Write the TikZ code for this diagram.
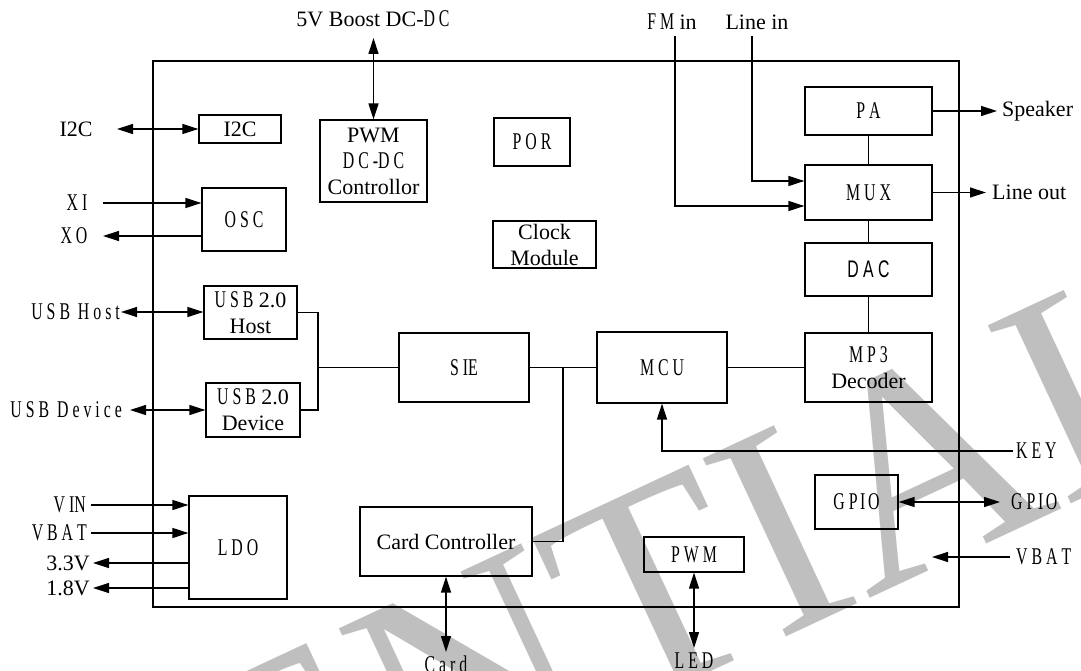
\documentclass[tikz,border=0pt]{standalone}
\usepackage{fontspec}
\setmainfont{Liberation Serif}
\setsansfont{Liberation Sans}
\usepackage{graphicx}
\usetikzlibrary{arrows.meta}
\newcommand\nw[1]{\scalebox{0.66}[1]{\fontsize{24}{26}\selectfont #1}}
\begin{document}
\begin{tikzpicture}[x=1pt,y=-1pt,
  every node/.style={font=\fontsize{22}{26}\selectfont, inner sep=0pt},
  blk/.style={draw, line width=1.2pt, align=center, rectangle},
  wire/.style={line width=1.3pt},
  arr/.style={wire, -{Triangle[length=16pt,width=10pt]}},
  biarr/.style={wire, {Triangle[length=16pt,width=10pt]}-{Triangle[length=16pt,width=10pt]}},
  wmark/.style={text=black!25, font=\fontsize{300}{300}\selectfont}
]
\useasboundingbox (0,0) rectangle (1081,671);
\clip (0,0) rectangle (1081,671);
% watermark
\node[wmark, rotate=25, anchor=base east] (wm) at (1230,430) {CONFIDENTIAL};

% chip frame
\node[draw, line width=1.6pt, minimum width=806pt, minimum height=546pt] (chip) at (556,334) {};

% blocks
\node[blk, minimum width=82pt, minimum height=28pt] (i2c) at (240,129) {I2C};
\node[blk, minimum width=107pt, minimum height=82pt] (pwmdc) at (373.5,161) {PWM\\\nw{D C -D C}\\Controllor};
\node[blk, minimum width=76pt, minimum height=48pt] (por) at (532,142) {\nw{P O R}};
\node[blk, minimum width=84pt, minimum height=63pt] (osc) at (244,219.5) {\nw{O S C}};
\node[blk, minimum width=103pt, minimum height=47pt] (clk) at (544.5,244.5) {Clock\\Module};
\node[blk, minimum width=93pt, minimum height=53pt] (usbh) at (250.5,312.5) {\nw{U S B} 2.0\\Host};
\node[blk, minimum width=94pt, minimum height=54pt] (usbd) at (253,410) {\nw{U S B} 2.0\\Device};
\node[blk, minimum width=130pt, minimum height=69pt] (sie) at (464,367.5) {\nw{S IE}};
\node[blk, minimum width=130pt, minimum height=71pt] (mcu) at (662,367.5) {\nw{M C U}};
\node[blk, minimum width=127pt, minimum height=69pt] (mp3) at (868.5,367.5) {\nw{M P 3}\\Decoder};
\node[blk, minimum width=127pt, minimum height=53pt] (dac) at (868.5,269.5) {\nw{\sffamily D A C}};
\node[blk, minimum width=127pt, minimum height=55pt] (mux) at (868.5,192.5) {\nw{M U X}};
\node[blk, minimum width=127pt, minimum height=48pt] (pa) at (868.5,111) {\nw{P A}};
\node[blk, minimum width=172pt, minimum height=69pt] (card) at (446,541.5) {Card Controller};
\node[blk, minimum width=83pt, minimum height=54pt] (gpio) at (856.5,502) {\nw{G P\,I\,O}};
\node[blk, minimum width=100pt, minimum height=35pt] (pwm) at (694,554.5) {\nw{P W M}};
\node[blk, minimum width=98pt, minimum height=103pt] (ldo) at (238,547.5) {\nw{L D O}};

% top
\node (l5v) at (373,19) {5V Boost DC-\nw{D C}};
\coordinate (c5v) at (373.5,38);
\draw[biarr] (c5v) -- (pwmdc.north);

\node (lfm) at (672,22) {\nw{F M} in};
\node (lli) at (757,22) {Line in};
\coordinate (cfm) at (675,36);
\coordinate (yfm) at (0,206);
\draw[arr] (cfm) |- (mux.west |- yfm);
\coordinate (cli) at (752,36);
\coordinate (yli) at (0,181);
\draw[arr] (cli) |- (mux.west |- yli);

% left
\node (li2c) at (76,129) {I2C};
\coordinate (ci2c) at (117,129);
\draw[biarr] (ci2c) -- (i2c.west);

\node (lxi) at (77,203) {\nw{X I}};
\coordinate (cxi) at (103,203);
\draw[arr] (cxi) -- (osc.west |- cxi);
\node (lxo) at (74,236) {\nw{X O}};
\coordinate (cxo) at (103,236);
\draw[arr] (osc.west |- cxo) -- (cxo);

\node[anchor=east] (luh) at (120,312) {\nw{U S B\ \ H o s t}};
\coordinate (cuh) at (121,312);
\draw[biarr] (cuh) -- (usbh.west |- cuh);
\node[anchor=east] (lud) at (122,410) {\nw{U S B\ \ D e v i c e}};
\coordinate (cud) at (130,410);
\draw[biarr] (cud) -- (usbd.west |- cud);

\node[anchor=east] (lvin) at (86,505) {\nw{V IN}};
\coordinate (cvin) at (91,505);
\draw[arr] (cvin) -- (ldo.west |- cvin);
\node[anchor=east] (lvbl) at (87,533) {\nw{V B A T}};
\coordinate (cvbl) at (91,533);
\draw[arr] (cvbl) -- (ldo.west |- cvbl);
\node[anchor=east] (l33) at (90,563) {3.3V};
\coordinate (c33) at (93,563);
\draw[arr] (ldo.west |- c33) -- (c33);
\node[anchor=east] (l18) at (90,588) {1.8V};
\coordinate (c18) at (93,588);
\draw[arr] (ldo.west |- c18) -- (c18);

% internal wiring
\coordinate (jb) at (318,367.5);
\draw[wire] (usbh.east) -| (jb);
\draw[wire] (usbd.east) -| (jb);
\draw[wire] (jb) -- (sie.west);
\draw[wire] (sie.east) -- (mcu.west);
\coordinate (jc) at (563,367.5);
\draw[wire] (jc) |- (card.east);
\draw[wire] (mcu.east) -- (mp3.west);
\draw[wire] (pa.south) -- (mux.north);
\draw[wire] (mux.south) -- (dac.north);
\draw[wire] (dac.south) -- (mp3.north);

% right
\coordinate (cspk) at (997,111);
\draw[arr] (pa.east) -- (cspk);
\node[anchor=west] (lspk) at (1002,111) {Speaker};
\coordinate (clo) at (986,192.5);
\draw[arr] (mux.east) -- (clo);
\node[anchor=west] (llo) at (992,192.5) {Line out};

\coordinate (ckey) at (1013,451);
\draw[arr] (ckey) -| (mcu.south);
\node[anchor=west] (lkey) at (1016,451) {\nw{K E Y}};

\coordinate (cgp) at (1000,502);
\draw[biarr] (gpio.east) -- (cgp);
\node[anchor=west] (lgp) at (1011,502) {\nw{G P\,I\,O}};

\coordinate (cvb1) at (1010,557);
\coordinate (cvb2) at (932,557);
\draw[arr] (cvb1) -- (cvb2);
\node[anchor=west] (lvbr) at (1016,557) {\nw{V B A T}};

% bottom
\coordinate (cled) at (694,648);
\draw[biarr] (pwm.south) -- (cled);
\node (lled) at (694,661) {\nw{L E D}};
\coordinate (ccard) at (446,652);
\draw[biarr] (card.south) -- (ccard);
\node (lcard) at (446,664) {\nw{C a r d}};
\end{tikzpicture}
\end{document}
